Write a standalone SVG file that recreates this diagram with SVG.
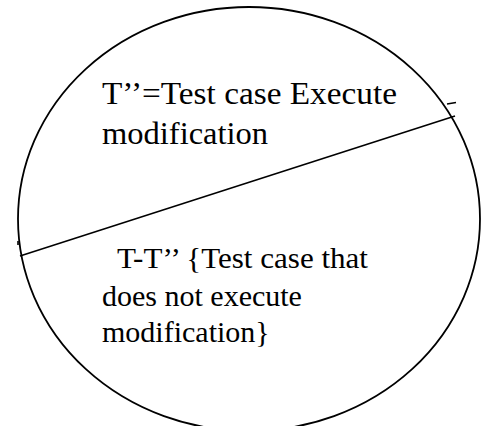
<svg xmlns="http://www.w3.org/2000/svg" width="481" height="426" viewBox="0 0 481 426">
<style>
.shape{fill:none;stroke:#000;stroke-width:1.8}
.ln{stroke:#000;stroke-width:1.6;fill:none}
.t{fill:#000}
</style>
<rect width="481" height="426" fill="#fff"/>
<g id="set">
<ellipse class="shape" cx="249" cy="219" rx="231" ry="212"/>
</g>
<g id="connectors">
<line class="ln" x1="20" y1="256" x2="455" y2="116"/>
<line class="ln" x1="447" y1="104" x2="456" y2="102.5"/>
<line class="ln" x1="18" y1="241" x2="18" y2="245"/>
</g>
<g id="upper" font-family="'Liberation Serif', 'Times New Roman', 'DejaVu Serif', serif">
<text class="t" x="102" y="104" font-size="32.5" textLength="295" lengthAdjust="spacingAndGlyphs">T’’=Test case Execute</text>
<text class="t" x="102" y="144" font-size="32.5">modification</text>
</g>
<g id="lower" font-family="'Liberation Serif', 'Times New Roman', 'DejaVu Serif', serif">
<text class="t" x="117" y="268" font-size="30" textLength="251" lengthAdjust="spacingAndGlyphs">T-T’’ {Test case that</text>
<text class="t" x="102" y="306" font-size="30">does not execute</text>
<text class="t" x="102" y="342" font-size="30">modification}</text>
</g>
</svg>
